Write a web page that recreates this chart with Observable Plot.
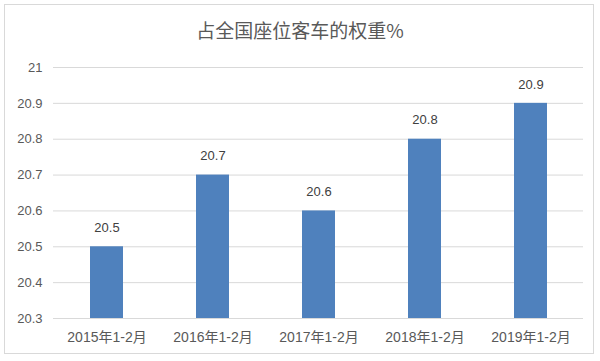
<!DOCTYPE html>
<html>
<head>
<meta charset="utf-8">
<script src="https://cdn.jsdelivr.net/npm/d3@7"></script>
<script src="https://cdn.jsdelivr.net/npm/@observablehq/plot@0.6"></script>
<style>
  body { margin: 0; background: #fff; font-family: "Liberation Sans", "Noto Sans CJK SC", sans-serif; }
  #wrap { position: relative; width: 600px; height: 361px; overflow: hidden; }
  #frame { position: absolute; left: 4px; top: 4px; width: 590px; height: 350px; border: 1px solid #d9d9d9; box-sizing: border-box; }
  #title { position: absolute; left: 0; top: 17px; width: 600px; text-align: center; font-size: 19px; color: #595959; font-family: "Noto Sans CJK SC", sans-serif; line-height: 26px; }
  #chart { position: absolute; left: 0; top: 50px; }
</style>
</head>
<body>
<div id="wrap">
  <div id="frame"></div>
  <div id="title">占全国座位客车的权重%</div>
  <div id="chart"></div>
</div>
<script>
const categories = ["2015年1-2月", "2016年1-2月", "2017年1-2月", "2018年1-2月", "2019年1-2月"];
const values = [20.5, 20.7, 20.6, 20.8, 20.9];
const yTicks = [20.3, 20.4, 20.5, 20.6, 20.7, 20.8, 20.9, 21];

const data = categories.map((c, i) => ({category: c, value: values[i]}));

const chart = Plot.plot({
  width: 600,
  height: 311,
  marginTop: 17,
  marginBottom: 43,
  marginLeft: 53,
  marginRight: 17,
  style: {fontFamily: "'Liberation Sans', 'Noto Sans CJK SC', sans-serif", fontSize: "13px", color: "#595959", background: "transparent"},
  x: {domain: categories, paddingInner: 0.69, paddingOuter: 0.345, label: null, tickSize: 0, tickPadding: 14},
  y: {domain: [20.3, 21], ticks: yTicks, tickFormat: d => String(+d.toFixed(1)), label: null, tickSize: 0, tickPadding: 11},
  marks: [
    Plot.gridY(yTicks, {stroke: "#d9d9d9", strokeOpacity: 1}),
    Plot.barY(data, {x: "category", y1: 20.3, y2: "value", fill: "#4f81bd"}),
    Plot.text(data, {x: "category", y: "value", text: d => d.value.toFixed(1), dy: -19, fill: "#404040", fontSize: 13})
  ]
});
chart.querySelectorAll("[aria-label='x-axis tick label'] text").forEach(t => t.setAttribute("font-size", "14"));
document.getElementById("chart").appendChild(chart);
</script>
</body>
</html>
